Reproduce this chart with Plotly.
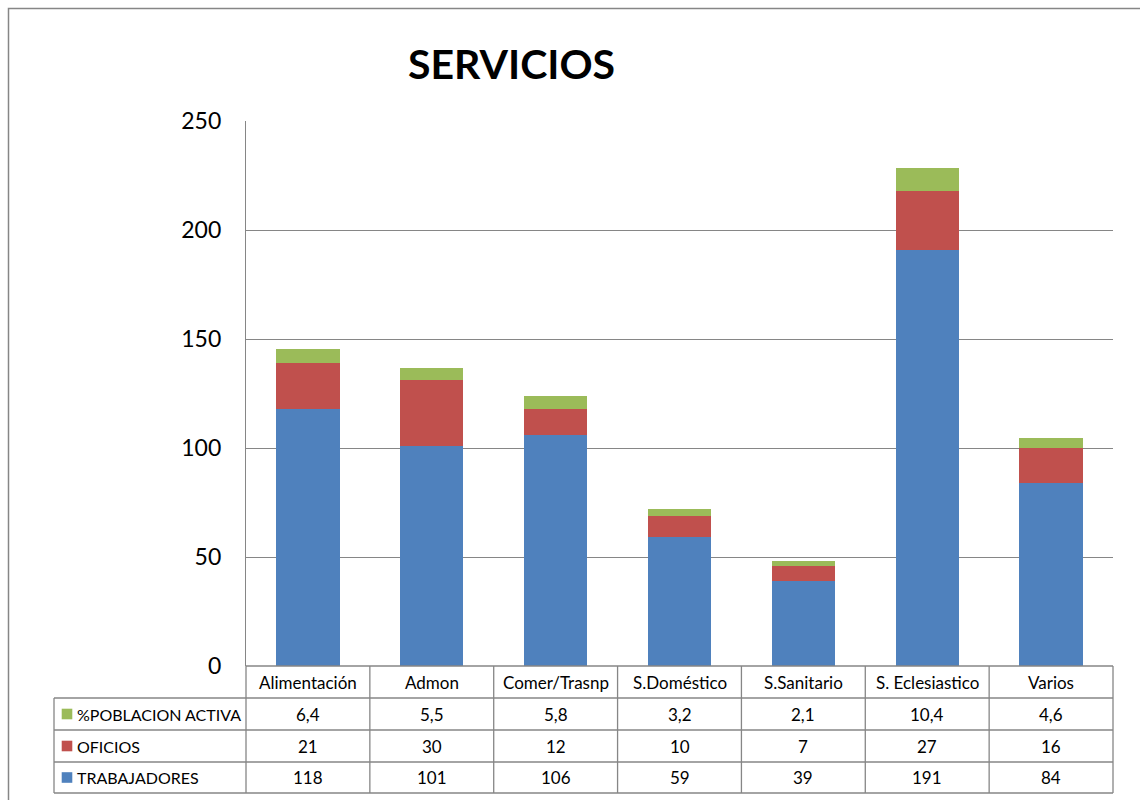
import plotly.graph_objects as go

categories = ["Alimentación", "Admon", "Comer/Trasnp", "S.Doméstico", "S.Sanitario", "S. Eclesiastico", "Varios"]
trabajadores = [118, 101, 106, 59, 39, 191, 84]
oficios = [21, 30, 12, 10, 7, 27, 16]
poblacion = [6.4, 5.5, 5.8, 3.2, 2.1, 10.4, 4.6]
series_names = ["TRABAJADORES", "OFICIOS", "%POBLACION ACTIVA"]
y_ticks = [0, 50, 100, 150, 200, 250]

W, H = 1140, 800
L, R, T, B = 246, 1113, 121, 666
PW, PH = R - L, B - T
FONT = "Lato"
GRID = "#868686"
BLUE, RED, GREEN = "#4F81BD", "#C0504D", "#9BBB59"


def px(x):
    return (x - L) / PW


def py(y):
    return (B - y) / PH


fig = go.Figure()
for name, vals, col in [(series_names[0], trabajadores, BLUE),
                        (series_names[1], oficios, RED),
                        (series_names[2], poblacion, GREEN)]:
    fig.add_trace(go.Bar(x=categories, y=vals, name=name, marker_color=col,
                         marker_line_width=0, width=0.51, showlegend=False))

shapes = []
line = dict(color=GRID, width=1.3)
# outer chart frame
shapes.append(dict(type="rect", xref="paper", yref="paper", x0=px(8.5), x1=px(1160),
                   y0=py(820), y1=py(8.5), line=dict(color=GRID, width=1.5), layer="below"))
# table horizontal lines
row_y = [666, 698, 730, 762, 793]
for i, yy in enumerate(row_y):
    x0 = L if i == 0 else 54
    shapes.append(dict(type="line", xref="paper", yref="paper", x0=px(x0), x1=px(R),
                       y0=py(yy), y1=py(yy), line=line))
# table vertical lines
n = len(categories)
for k in range(n + 1):
    xx = L + PW * k / n
    shapes.append(dict(type="line", xref="paper", yref="paper", x0=px(xx), x1=px(xx),
                       y0=py(666), y1=py(793), line=line))
shapes.append(dict(type="line", xref="paper", yref="paper", x0=px(54), x1=px(54),
                   y0=py(698), y1=py(793), line=line))

annotations = []
annotations.append(dict(text="<b>SERVICIOS</b>", xref="paper", yref="paper", x=px(511), y=py(63),
                        xanchor="center", yanchor="middle", showarrow=False,
                        font=dict(family=FONT, size=41, color="black")))
# header row
for c in categories:
    annotations.append(dict(text=c, xref="x", yref="paper", x=c, y=py(682), xanchor="center",
                            yanchor="middle", showarrow=False,
                            font=dict(family=FONT, size=17, color="black")))
rows = [(series_names[2], poblacion, GREEN, 714),
        (series_names[1], oficios, RED, 746),
        (series_names[0], trabajadores, BLUE, 777.5)]
for name, vals, col, yc in rows:
    shapes.append(dict(type="rect", xref="paper", yref="paper", x0=px(61.7), x1=px(72.3),
                       y0=py(yc + 5.3), y1=py(yc - 5.3), fillcolor=col, line=dict(width=0)))
    annotations.append(dict(text=name, xref="paper", yref="paper", x=px(75), y=py(yc),
                            xanchor="left", yanchor="middle", showarrow=False,
                            font=dict(family=FONT, size=16, color="black")))
    for c, v in zip(categories, vals):
        s = (f"{v}" if isinstance(v, int) else f"{v:.1f}").replace(".", ",")
        annotations.append(dict(text=s, xref="x", yref="paper", x=c, y=py(yc), xanchor="center",
                                yanchor="middle", showarrow=False,
                                font=dict(family=FONT, size=17, color="black")))

fig.update_layout(
    width=W, height=H,
    margin=dict(l=L, r=W - R, t=T, b=H - B, pad=0),
    barmode="stack",
    plot_bgcolor="white", paper_bgcolor="white",
    font=dict(family=FONT, color="black"),
    shapes=shapes, annotations=annotations,
    xaxis=dict(showticklabels=False, showgrid=False, showline=False, zeroline=False,
               range=[-0.5, n - 0.5], fixedrange=True),
    yaxis=dict(range=[0, 250], tickvals=y_ticks, showgrid=True, gridcolor=GRID, gridwidth=1.3,
               showline=True, linecolor=GRID, linewidth=1.3, zeroline=False,
               ticks="", ticklabelstandoff=19, tickfont=dict(family=FONT, size=23, color="black"),
               fixedrange=True),
)

fig.write_html("out.html")
